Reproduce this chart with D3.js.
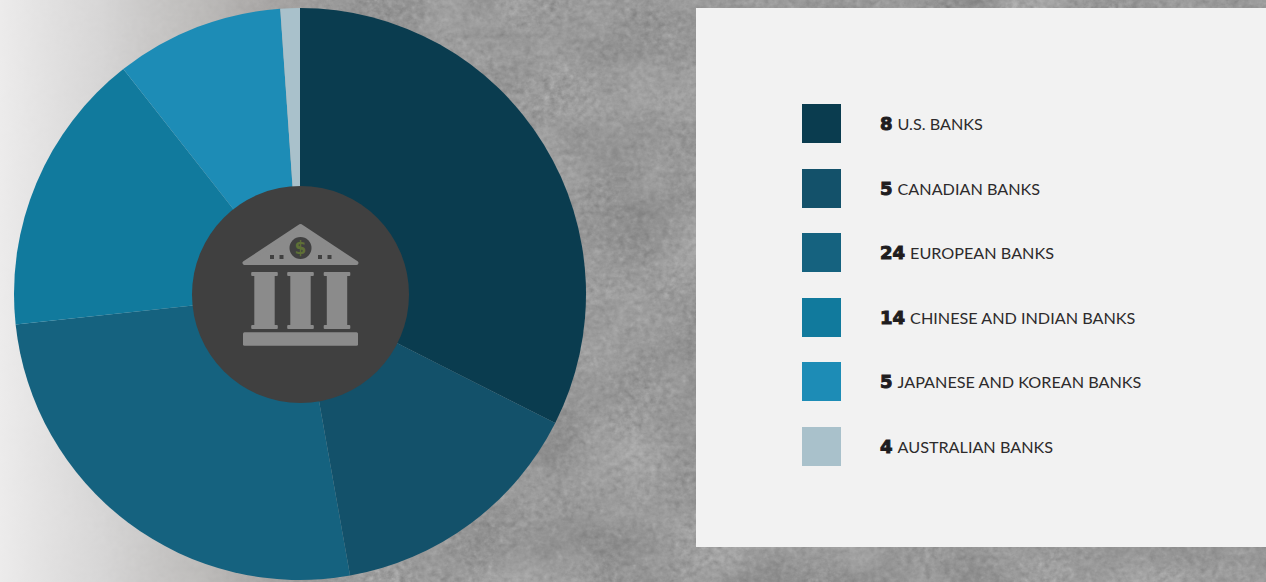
<!DOCTYPE html>
<html><head><meta charset="utf-8">
<script src="https://cdn.jsdelivr.net/npm/d3@7"></script>
<style>html,body{margin:0;padding:0;background:#949494;overflow:hidden}svg{display:block}</style>
</head><body>
<svg id="chart" width="1266" height="582"></svg>
<script>
const categories = ["U.S. BANKS","CANADIAN BANKS","EUROPEAN BANKS","CHINESE AND INDIAN BANKS","JAPANESE AND KOREAN BANKS","AUSTRALIAN BANKS"];
const bankCounts = [8,5,24,14,5,4];
const shareValues = [32.45,14.75,26.1,16.1,9.5,1.1];
const sliceColors = ["#0a3c4f","#13516a","#15627f","#117a9d","#1d8cb6","#a9c1cb"];

const svg = d3.select("#chart");
const W = 1266, H = 582;
const defs = svg.append("defs");

// concrete texture: fine grain over a soft mottling, low contrast
const tex = defs.append("filter").attr("id","concrete").attr("x",0).attr("y",0).attr("width","100%").attr("height","100%")
  .attr("color-interpolation-filters","sRGB");
tex.append("feTurbulence").attr("type","fractalNoise").attr("baseFrequency","0.16 0.18").attr("numOctaves",3).attr("seed",4).attr("result","fine");
tex.append("feTurbulence").attr("type","fractalNoise").attr("baseFrequency","0.012 0.016").attr("numOctaves",3).attr("seed",9).attr("result","soft");
tex.append("feComposite").attr("in","fine").attr("in2","soft").attr("operator","arithmetic")
  .attr("k1",0).attr("k2",0.5).attr("k3",0.5).attr("k4",0).attr("result","mix");
tex.append("feColorMatrix").attr("in","mix").attr("type","matrix")
  .attr("values","0.2 0.2 0 0 0.4  0.2 0.2 0 0 0.4  0.2 0.2 0 0 0.4  0 0 0 0 1");

const fade = defs.append("linearGradient").attr("id","fade");
[[0,"#efeeee",0.97],[0.3,"#dcdbdb",0.92],[0.6,"#c4c2c0",0.8],[0.85,"#aca8a6",0.55],[1,"#a09c9a",0]].forEach(s=>{
  fade.append("stop").attr("offset",s[0]).attr("stop-color",s[1]).attr("stop-opacity",s[2]);
});

svg.append("rect").attr("width",W).attr("height",H).attr("filter","url(#concrete)");
svg.append("rect").attr("width",340).attr("height",H).attr("fill","url(#fade)");

// pie
const cx = 300, cy = 294, R = 286;
const pie = d3.pie().sort(null).value(d=>d);
const arc = d3.arc().innerRadius(0).outerRadius(R);
svg.append("g").attr("transform",`translate(${cx},${cy})`)
  .selectAll("path").data(pie(shareValues)).join("path")
  .attr("d",arc).attr("fill",(d,i)=>sliceColors[i]);

// centre disc + bank icon
const icon = svg.append("g").attr("transform","translate(300.5,294.5)");
icon.append("circle").attr("r",108.5).attr("fill","#404040");
const ic = "#8b8b8b";
icon.append("path").attr("fill",ic).attr("stroke",ic).attr("stroke-width",4).attr("stroke-linejoin","round")
  .attr("d","M0,-68.5L-56,-31.5H56Z");
icon.append("circle").attr("cx",0).attr("cy",-46.5).attr("r",11).attr("fill","#404040");
icon.append("text").attr("x",0).attr("y",-40.5).attr("text-anchor","middle")
  .attr("font-family","'DejaVu Sans'").attr("font-weight",700).attr("font-size",17).attr("fill","#5f7036").text("$");
[-28.5,-19,19.5,29].forEach(x=>icon.append("rect").attr("x",x-2).attr("y",-39.5).attr("width",4).attr("height",4).attr("fill","#404040"));
[-36,0,36.5].forEach(x=>{
  const g = icon.append("g").attr("transform",`translate(${x},0)`).attr("fill",ic);
  g.append("rect").attr("x",-10.2).attr("y",-22.5).attr("width",20.4).attr("height",57);
  g.append("rect").attr("x",-13.3).attr("y",-22.5).attr("width",26.6).attr("height",4).attr("rx",1);
  g.append("rect").attr("x",-13.3).attr("y",30.5).attr("width",26.6).attr("height",4).attr("rx",1);
});
icon.append("rect").attr("x",-57.5).attr("y",37.8).attr("width",115).attr("height",13.4).attr("rx",1.5).attr("fill",ic);

// legend panel
svg.append("rect").attr("x",696).attr("y",8).attr("width",570).attr("height",539).attr("fill","#f2f2f2");

const y = d3.scalePoint().domain(categories).range([104,427]);
const rows = svg.append("g").selectAll("g").data(categories).join("g")
  .attr("transform",d=>`translate(802,${Math.round(y(d))})`);
rows.append("rect").attr("width",39).attr("height",39).attr("fill",(d,i)=>sliceColors[i]);
const t = rows.append("text").attr("x",78).attr("y",26).attr("fill","#2d2b2c")
  .attr("font-family","Lato, sans-serif").attr("font-size",16.2);
t.append("tspan").attr("font-family","'DejaVu Sans'").attr("font-weight",700).attr("font-size",18).attr("fill","#1f1d1e")
  .attr("stroke","#1f1d1e").attr("stroke-width",1).text((d,i)=>bankCounts[i]);
t.append("tspan").attr("dx",5).text(d=>d);
</script>
</body></html>
